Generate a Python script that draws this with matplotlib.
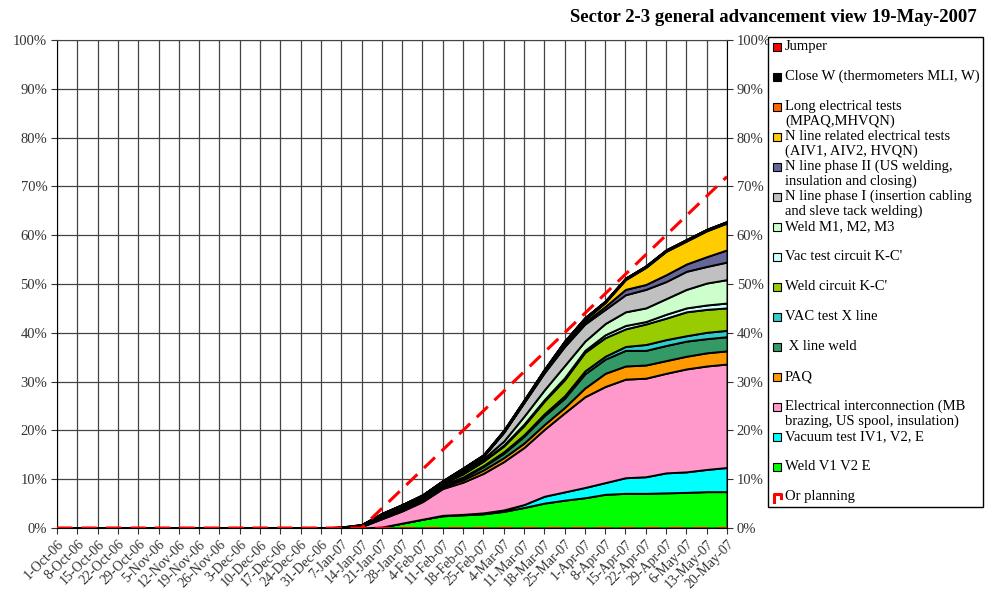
import matplotlib.pyplot as plt
from matplotlib.patches import Rectangle
from matplotlib.lines import Line2D
import numpy as np

plt.rcParams['font.family'] = ['Liberation Serif', 'DejaVu Serif']

dates = ['1-Oct-06', '8-Oct-06', '15-Oct-06', '22-Oct-06', '29-Oct-06', '5-Nov-06',
         '12-Nov-06', '19-Nov-06', '26-Nov-06', '3-Dec-06', '10-Dec-06', '17-Dec-06',
         '24-Dec-06', '31-Dec-06', '7-Jan-07', '14-Jan-07', '21-Jan-07', '28-Jan-07',
         '4-Feb-07', '11-Feb-07', '18-Feb-07', '25-Feb-07', '4-Mar-07', '11-Mar-07',
         '18-Mar-07', '25-Mar-07', '1-Apr-07', '8-Apr-07', '15-Apr-07', '22-Apr-07',
         '29-Apr-07', '6-May-07', '13-May-07', '20-May-07']

# progress per activity (% of sector), stacked bottom -> top
weld_v1 = [0, 0, 0, 0, 0, 0, 0, 0, 0, 0, 0, 0, 0, 0,
           0, 0, 0.2, 1.0, 1.8, 2.5, 2.7, 2.9, 3.4, 4.2, 5.1, 5.7, 6.2, 6.9, 7.1, 7.1, 7.2, 7.3, 7.45, 7.45]
vacuum_test = [0, 0, 0, 0, 0, 0, 0, 0, 0, 0, 0, 0, 0, 0,
               0, 0, 0, 0, 0, 0.1, 0.1, 0.2, 0.3, 0.6, 1.4, 1.7, 2.1, 2.4, 3.2, 3.4, 4.1, 4.2, 4.55, 4.95]
elec_inter = [0, 0, 0, 0, 0, 0, 0, 0, 0, 0, 0, 0, 0, 0,
              0.1, 0.3, 1.7, 2.5, 3.6, 5.5, 6.6, 8.1, 9.9, 11.7, 13.7, 16.2, 18.6, 19.7, 20.2, 20.2, 20.4, 21.1, 21.2, 21.2]
paq = [0, 0, 0, 0, 0, 0, 0, 0, 0, 0, 0, 0, 0, 0,
       0, 0.05, 0.1, 0.2, 0.3, 0.4, 0.5, 0.7, 0.8, 0.9, 1.0, 1.1, 1.8, 2.7, 2.7, 2.7, 2.6, 2.6, 2.7, 2.7]
x_weld = [0, 0, 0, 0, 0, 0, 0, 0, 0, 0, 0, 0, 0, 0,
          0, 0.05, 0.2, 0.2, 0.2, 0.3, 0.4, 0.7, 0.9, 1.4, 1.8, 1.9, 2.9, 2.9, 3.2, 3.0, 3.1, 3.1, 2.9, 2.9]
vac_x = [0, 0, 0, 0, 0, 0, 0, 0, 0, 0, 0, 0, 0, 0,
         0, 0, 0.05, 0.1, 0.1, 0.1, 0.15, 0.2, 0.3, 0.3, 0.4, 0.5, 0.6, 0.6, 0.8, 1.2, 1.2, 1.1, 1.3, 1.3]
weld_kc = [0, 0, 0, 0, 0, 0, 0, 0, 0, 0, 0, 0, 0, 0,
           0, 0.1, 0.35, 0.3, 0.3, 0.3, 0.65, 0.9, 1.2, 1.9, 2.6, 3.3, 3.8, 3.8, 3.6, 4.2, 4.4, 4.9, 4.7, 4.6]
vac_kc = [0, 0, 0, 0, 0, 0, 0, 0, 0, 0, 0, 0, 0, 0,
          0, 0, 0.05, 0.05, 0.05, 0.05, 0.1, 0.1, 0.2, 0.3, 0.3, 0.4, 0.4, 0.6, 0.7, 0.5, 0.8, 0.8, 0.9, 1.0]
weld_m = [0, 0, 0, 0, 0, 0, 0, 0, 0, 0, 0, 0, 0, 0,
          0, 0.05, 0.1, 0.15, 0.15, 0.15, 0.4, 0.4, 0.8, 1.6, 2.0, 2.5, 1.9, 2.3, 2.8, 2.8, 3.2, 3.8, 4.5, 4.8]
n_line_1 = [0, 0, 0, 0, 0, 0, 0, 0, 0, 0, 0, 0, 0, 0,
            0, 0.05, 0.15, 0.2, 0.2, 0.2, 0.4, 0.5, 1.8, 2.8, 3.5, 3.9, 3.5, 2.9, 3.5, 3.8, 3.5, 3.7, 3.4, 3.6]
n_line_2 = [0, 0, 0, 0, 0, 0, 0, 0, 0, 0, 0, 0, 0, 0,
            0, 0, 0, 0, 0, 0, 0, 0.05, 0.05, 0.1, 0.2, 0.3, 0.4, 0.6, 1.1, 1.0, 1.4, 1.5, 2.0, 2.5]
n_line_elec = [0, 0, 0, 0, 0, 0, 0, 0, 0, 0, 0, 0, 0, 0,
               0, 0, 0, 0, 0, 0, 0, 0.05, 0.05, 0.1, 0.2, 0.5, 0.5, 0.8, 2.0, 3.5, 4.8, 4.7, 5.3, 5.5]
long_elec = [0, 0, 0, 0, 0, 0, 0, 0, 0, 0, 0, 0, 0, 0,
             0, 0, 0, 0, 0, 0, 0.1, 0.05, 0.1, 0.1, 0.1, 0.1, 0.1, 0.1, 0.1, 0.1, 0.1, 0.1, 0.1, 0.1]
close_w = [0, 0, 0, 0, 0, 0, 0, 0, 0, 0, 0, 0, 0, 0,
           0.1, 0.1, 0.1, 0.1, 0.1, 0.1, 0.2, 0.15, 0.2, 0.2, 0.2, 0.2, 0.3, 0.2, 0.2, 0.2, 0.2, 0.2, 0.2, 0.2]
jumper = [0, 0, 0, 0, 0, 0, 0, 0, 0, 0, 0, 0, 0, 0,
          0, 0, 0, 0, 0, 0, 0, 0, 0, 0, 0, 0, 0, 0, 0, 0, 0, 0, 0, 0]

planning = [0, 0, 0, 0, 0, 0, 0, 0, 0, 0, 0, 0, 0, 0, 0, 0,
            4, 8, 12, 16, 20, 24, 28, 32, 36, 40, 44, 48, 52, 56, 60, 64, 68, 72]

layers = [weld_v1, vacuum_test, elec_inter, paq, x_weld, vac_x, weld_kc, vac_kc,
          weld_m, n_line_1, n_line_2, n_line_elec, long_elec, close_w, jumper]
colors = ['#00FF00', '#00FFFF', '#FF99CC', '#FF9900', '#339966', '#33CCCC', '#99CC00',
          '#CCFFFF', '#CCFFCC', '#C0C0C0', '#666699', '#FFCC00', '#FF6600', '#000000', '#FF0000']
labels = ['Weld V1 V2 E', 'Vacuum test IV1, V2, E',
          'Electrical interconnection (MB\nbrazing, US spool, insulation)', 'PAQ',
          ' X line weld', 'VAC test X line', "Weld circuit K-C'", "Vac test circuit K-C'",
          'Weld M1, M2, M3', 'N line phase I (insertion cabling\nand sleve tack welding)',
          'N line phase II (US welding,\ninsulation and closing)',
          'N line related electrical tests\n(AIV1, AIV2, HVQN)',
          'Long electrical tests\n(MPAQ,MHVQN)', 'Close W (thermometers MLI, W)', 'Jumper']

W, H = 985, 598
fig = plt.figure(figsize=(W / 100, H / 100), dpi=100)
ax = fig.add_axes([57 / W, 1 - 528 / H, 670 / W, 488 / H])

x = np.arange(len(dates))
ax.stackplot(x, layers, colors=colors, edgecolor='black', linewidth=1.4, zorder=2)
ax.axhline(0, color='red', lw=2.2, ls=(0, (5, 3)), zorder=3)
ax.plot(x, planning, color='red', lw=2.2, ls=(0, (5, 3)), zorder=4)

ax.set_xlim(0, len(dates) - 1)
ax.set_ylim(0, 100)
ax.set_xticks(x)
ax.set_xticklabels(dates, rotation=45, ha='right', rotation_mode='anchor', fontsize=10)
ax.set_yticks(np.arange(0, 101, 10))
ax.set_yticklabels([f'{v}%' for v in range(0, 101, 10)], fontsize=10.5)
ax.yaxis.set_ticks_position('both')
ax.tick_params(axis='y', labelright=True, direction='out', length=4, pad=3, colors='#333333')
ax.tick_params(axis='x', direction='out', length=4, pad=3, colors='#333333')
ax.grid(True, color='#444444', lw=0.9)
ax.set_axisbelow(True)
for s in ['left', 'right', 'bottom']:
    ax.spines[s].set_color('black')
ax.spines['top'].set_color('#444444')

fig.text(977 / W, 1 - 17 / H, 'Sector 2-3 general advancement view 19-May-2007',
         ha='right', va='center', fontsize=13.5, fontweight='bold')

# legend box drawn by hand so every entry keeps the same spacing
fig.patches.append(Rectangle((768 / W, 1 - 507 / H), 215 / W, 470 / H, transform=fig.transFigure,
                             facecolor='white', edgecolor='black', lw=1.0))
entries = list(zip(labels[::-1], colors[::-1]))
for k, (lab, col) in enumerate(entries):
    yc = 46.7 + 30 * k
    fig.patches.append(Rectangle((773 / W, 1 - (yc + 4) / H), 8 / W, 8 / H, transform=fig.transFigure,
                                 facecolor=col, edgecolor='black', lw=0.8))
    for j, line in enumerate(lab.split('\n')):
        fig.text(785 / W, 1 - (yc + 14.5 * j) / H, line, ha='left', va='center', fontsize=10.5)
yc = 46.7 + 30 * len(entries)
fig.lines.append(Line2D([774 / W, 774 / W, 781 / W, 781 / W],
                        [1 - (yc + 5) / H, 1 - (yc - 3) / H, 1 - (yc - 3) / H, 1 - (yc + 1) / H],
                        transform=fig.transFigure, color='red', lw=2.2))
fig.text(785 / W, 1 - yc / H, 'Or planning', ha='left', va='center', fontsize=10.5)

fig.savefig('out.png', dpi=100)
